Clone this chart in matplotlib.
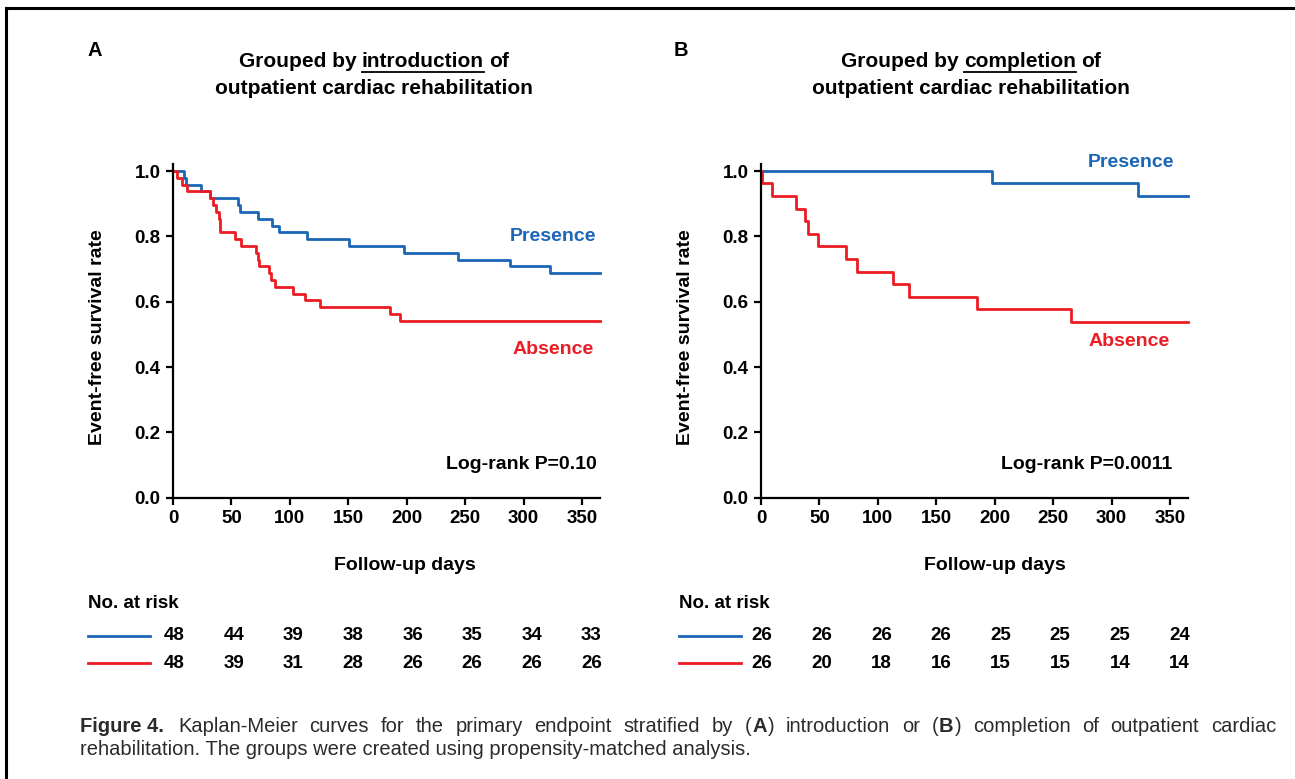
import matplotlib.pyplot as plt
from matplotlib.lines import Line2D
from matplotlib import transforms

# ---- data ----
days_ticks = [0, 50, 100, 150, 200, 250, 300, 350]

# panel A: grouped by introduction
a_pres_t = [0, 9, 11, 24, 32, 56, 57, 73, 85, 91, 115, 151, 198, 244, 288, 323, 365]
a_pres_s = [1.0, 0.979, 0.958, 0.938, 0.917, 0.896, 0.875, 0.854, 0.833, 0.813,
            0.792, 0.771, 0.750, 0.729, 0.708, 0.688, 0.688]
a_abs_t = [0, 3, 8, 12, 32, 34, 37, 39, 40, 53, 58, 71, 73, 74, 82, 84, 87,
           103, 113, 126, 186, 194, 365]
a_abs_s = [1.0, 0.979, 0.958, 0.938, 0.917, 0.896, 0.875, 0.854, 0.813, 0.792,
           0.771, 0.750, 0.729, 0.708, 0.688, 0.667, 0.646, 0.625, 0.604, 0.583,
           0.563, 0.542, 0.542]
a_risk_pres = [48, 44, 39, 38, 36, 35, 34, 33]
a_risk_abs = [48, 39, 31, 28, 26, 26, 26, 26]

# panel B: grouped by completion
b_pres_t = [0, 198, 323, 365]
b_pres_s = [1.0, 0.962, 0.923, 0.923]
b_abs_t = [0, 1, 9, 30, 38, 40, 49, 73, 82, 113, 127, 185, 265, 365]
b_abs_s = [1.0, 0.962, 0.923, 0.885, 0.846, 0.808, 0.769, 0.731, 0.692,
           0.654, 0.615, 0.577, 0.538, 0.538]
b_risk_pres = [26, 26, 26, 26, 25, 25, 25, 24]
b_risk_abs = [26, 20, 18, 16, 15, 15, 14, 14]

BLUE = '#1b66b5'
RED = '#ec1c24'
CAP = '#2b2b2b'

W, H = 1295, 779
def fx(px):
    return px / W
def fy(py):
    return 1 - py / H

plt.rcParams['font.family'] = ['Liberation Sans', 'DejaVu Sans']

fig = plt.figure(figsize=(12.95, 7.79), dpi=100)
renderer = fig.canvas.get_renderer()


def text_run(x, y, pieces, size, color='black', ha='left', width=None):
    # pieces: (text, weight, gap after, underline); gap 's' = stretchable space
    sp = 0.278 * size * 100 / 72
    texts = []
    for s, w, g, u in pieces:
        texts.append(fig.text(0, fy(y), s, fontsize=size, fontweight=w,
                              color=color, va='baseline', ha='left'))
    widths = [t.get_window_extent(renderer).width for t in texts]
    gaps = [sp if p[2] == 's' else p[2] for p in pieces]
    gaps[-1] = 0
    total = sum(widths) + sum(gaps)
    if width is not None:
        n = sum(1 for p in pieces[:-1] if p[2] == 's')
        extra = (width - total) / n
        gaps = [g + extra if p[2] == 's' else g for g, p in zip(gaps, pieces)]
        gaps[-1] = 0
    pos = x - total / 2 if ha == 'center' else x
    for t, wd, g, p in zip(texts, widths, gaps, pieces):
        t.set_x(fx(pos))
        if p[3]:
            fig.add_artist(Line2D([fx(pos), fx(pos + wd)], [fy(y + 5), fy(y + 5)],
                                  color=color, lw=1.3, transform=fig.transFigure))
        pos += wd + g


panels = [
    dict(left=173, letter='A', lx=95, word='introduction', tcx=374,
         pres=(a_pres_t, a_pres_s), ab=(a_abs_t, a_abs_s),
         risk=(a_risk_pres, a_risk_abs), pval='Log-rank P=0.10', px=363,
         plab=(325, 0.80), alab=(325, 0.455), xl=405, yl=97, rx=88),
    dict(left=761, letter='B', lx=681, word='completion', tcx=971,
         pres=(b_pres_t, b_pres_s), ab=(b_abs_t, b_abs_s),
         risk=(b_risk_pres, b_risk_abs), pval='Log-rank P=0.0011', px=352,
         plab=(317, 1.027), alab=(315, 0.477), xl=995, yl=686, rx=679),
]

y0, y1 = 497.7, 171.0
unit = y0 - y1
for p in panels:
    ax = fig.add_axes([fx(p['left']), fy(y0), 365 * 1.1686 / W, unit * 1.02 / H])
    ax.step(p['pres'][0], p['pres'][1], where='post', color=BLUE, lw=2, clip_on=False)
    ax.step(p['ab'][0], p['ab'][1], where='post', color=RED, lw=2, clip_on=False)
    ax.set_xlim(0, 365)
    ax.set_ylim(0, 1.02)
    ax.set_xticks(days_ticks)
    ax.set_yticks([0, 0.2, 0.4, 0.6, 0.8, 1.0])
    ax.set_yticklabels(['0.0', '0.2', '0.4', '0.6', '0.8', '1.0'])
    for s in ['top', 'right']:
        ax.spines[s].set_visible(False)
    for s in ['left', 'bottom']:
        ax.spines[s].set_linewidth(1.6)
    ax.tick_params(direction='out', length=5, width=1.6, labelsize=13.5, pad=4)
    for lab in ax.get_xticklabels() + ax.get_yticklabels():
        lab.set_fontweight('bold')

    ax.text(p['plab'][0], p['plab'][1], 'Presence', color=BLUE, fontsize=14,
            fontweight='bold', ha='center', va='center')
    ax.text(p['alab'][0], p['alab'][1], 'Absence', color=RED, fontsize=14,
            fontweight='bold', ha='center', va='center')
    ax.text(p['px'], 0.103, p['pval'], fontsize=14, fontweight='bold',
            ha='right', va='center')

    fig.text(fx(p['lx']), fy(50), p['letter'], fontsize=14.5, fontweight='bold',
             ha='center', va='center')
    text_run(p['tcx'], 67, [('Grouped by', 'bold', 5, False),
                            (p['word'], 'bold', 5, True),
                            ('of', 'bold', 0, False)], 15, ha='center')
    text_run(p['tcx'], 94, [('outpatient cardiac rehabilitation', 'bold', 0, False)],
             15, ha='center')
    fig.text(fx(p['xl']), fy(566), 'Follow-up days', fontsize=14,
             fontweight='bold', ha='center', va='center')
    fig.text(fx(p['yl']), fy(337), 'Event-free survival rate', fontsize=14,
             fontweight='bold', ha='center', va='center', rotation=90)

    # number at risk table
    fig.text(fx(p['rx']), fy(604), 'No. at risk', fontsize=13.5,
             fontweight='bold', ha='left', va='center')
    tr = transforms.blended_transform_factory(ax.transData, fig.transFigure)
    for row_y, col, vals in [(636, BLUE, p['risk'][0]), (663, RED, p['risk'][1])]:
        fig.add_artist(Line2D([fx(p['rx']), fx(p['rx'] + 62)], [fy(row_y), fy(row_y)],
                              color=col, lw=2, transform=fig.transFigure))
        for d, v in zip(days_ticks, vals):
            fig.text(d * 1.02 + 1, fy(row_y), str(v), transform=tr, fontsize=13.5,
                     fontweight='bold', ha='center', va='center')

# caption (first line justified)
cap1 = [('Figure 4.', 'bold', 14, False)]
for wd in 'Kaplan-Meier curves for the primary endpoint stratified by'.split():
    cap1.append((wd, 'normal', 's', False))
cap1 += [('(', 'normal', 1, False), ('A', 'bold', 1, False), (')', 'normal', 's', False)]
for wd in 'introduction or'.split():
    cap1.append((wd, 'normal', 's', False))
cap1 += [('(', 'normal', 1, False), ('B', 'bold', 1, False), (')', 'normal', 's', False)]
for wd in 'completion of outpatient cardiac'.split():
    cap1.append((wd, 'normal', 's', False))
text_run(80, 732, cap1, 14.5, color=CAP, width=1276 - 80)
text_run(80, 755, [('rehabilitation. The groups were created using propensity-matched analysis.',
                    'normal', 0, False)], 14.5, color=CAP)

# frame around the figure
fig.add_artist(Line2D([fx(6), fx(1295)], [fy(8), fy(8)], color='black', lw=2.2,
                      transform=fig.transFigure))
fig.add_artist(Line2D([fx(6), fx(6)], [fy(8), fy(779)], color='black', lw=2.2,
                      transform=fig.transFigure))

fig.savefig('out.png', dpi=100)
